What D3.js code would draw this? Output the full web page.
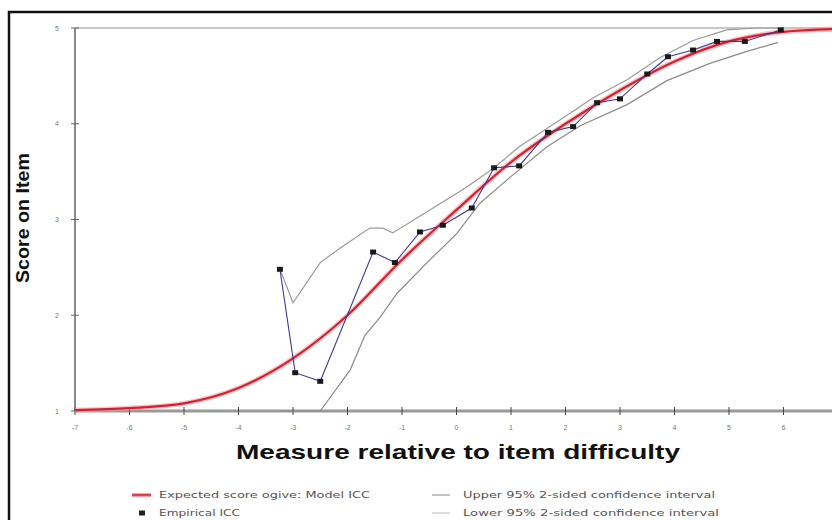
<!DOCTYPE html>
<html>
<head>
<meta charset="utf-8">
<script src="https://cdn.jsdelivr.net/npm/d3@7"></script>
<style>
  body { margin: 0; background: #fff; }
  svg { display: block; }
</style>
</head>
<body>
<div id="chart"></div>
<script>
// DATOS
let xTicks = [-7, -6, -5, -4, -3, -2, -1, 0, 1, 2, 3, 4, 5, 6];
let yTicks = [1, 2, 3, 4, 5];

// curva esperada (Model ICC)
let modelX = [-7, -6, -5, -4, -3, -2, -1, 0, 1, 2, 3, 4, 5, 6, 7];
let modelY = [1.01, 1.03, 1.08, 1.24, 1.55, 2.0, 2.58, 3.1, 3.6, 4.0, 4.35, 4.65, 4.86, 4.96, 4.99];

// ICC empirica
let empX = [-3.24, -2.96, -2.50, -1.53, -1.13, -0.67, -0.25, 0.28, 0.69, 1.15, 1.68, 2.14, 2.58, 3.00, 3.50, 3.88, 4.34, 4.78, 5.29, 5.95];
let empY = [2.48, 1.40, 1.31, 2.66, 2.55, 2.87, 2.94, 3.12, 3.54, 3.56, 3.91, 3.97, 4.22, 4.26, 4.52, 4.70, 4.77, 4.86, 4.86, 4.98];

// intervalo de confianza superior / inferior
let upperX = [-3.24, -3.0, -2.5, -2.14, -1.59, -1.35, -1.17, -0.8, -0.43, 0.19, 0.69, 1.15, 1.66, 2.27, 2.5, 3.13, 3.73, 4.34, 4.96, 5.5, 6.0];
let upperY = [2.48, 2.13, 2.55, 2.70, 2.91, 2.91, 2.86, 2.99, 3.12, 3.34, 3.54, 3.76, 3.95, 4.18, 4.27, 4.46, 4.69, 4.87, 4.98, 5.0, 5.0];
let lowerX = [-3.24, -2.5, -1.95, -1.68, -1.4, -1.09, -0.54, 0, 0.43, 0.98, 1.66, 2.27, 3.13, 3.86, 4.65, 5.3, 5.9];
let lowerY = [1.0, 1.0, 1.43, 1.79, 1.98, 2.23, 2.55, 2.85, 3.17, 3.44, 3.76, 3.98, 4.2, 4.45, 4.63, 4.75, 4.85];

let legendItems = [
  {label: "Expected score ogive: Model ICC", kind: "model"},
  {label: "Empirical ICC", kind: "emp"},
  {label: "Upper 95% 2-sided confidence interval", kind: "upper"},
  {label: "Lower 95% 2-sided confidence interval", kind: "lower"}
];

// SVG
let w = 832, h = 520;
let svg = d3.select("#chart").append("svg")
  .attr("width", w)
  .attr("height", h);

let x = d3.scaleLinear().domain([-7, 7]).range([75, 838]);
let y = d3.scaleLinear().domain([1, 5]).range([411, 28]);

// marco
svg.append("path")
  .attr("d", "M9," + h + "V12H" + w)
  .attr("fill", "none")
  .attr("stroke", "#111")
  .attr("stroke-width", 2.5);

// linea superior y ejes
svg.append("line")
  .attr("x1", x(-7)).attr("x2", w)
  .attr("y1", y(5)).attr("y2", y(5))
  .attr("stroke", "#c8c8c8").attr("stroke-width", 2);

svg.append("line")
  .attr("x1", x(-7)).attr("x2", x(-7))
  .attr("y1", y(5)).attr("y2", y(1))
  .attr("stroke", "#8a8a8a").attr("stroke-width", 2);

svg.append("line")
  .attr("x1", x(-7)).attr("x2", w)
  .attr("y1", y(1)).attr("y2", y(1))
  .attr("stroke", "#9a9a9a").attr("stroke-width", 3);

// ticks eje x
let gx = svg.append("g");
gx.selectAll(".tx")
  .data(xTicks)
  .enter().append("line")
  .attr("x1", d => x(d)).attr("x2", d => x(d))
  .attr("y1", y(1) - 4).attr("y2", y(1) + 4)
  .attr("stroke", "#444").attr("stroke-width", 1);
gx.selectAll(".lx")
  .data(xTicks)
  .enter().append("text")
  .attr("x", d => x(d)).attr("y", 430)
  .attr("text-anchor", "middle")
  .style("font-family", "Liberation Sans, sans-serif")
  .style("font-size", "7px")
  .style("fill", "#777")
  .text(d => d);

// ticks eje y
let gy = svg.append("g");
gy.selectAll(".ty")
  .data(yTicks)
  .enter().append("line")
  .attr("x1", x(-7) - 4).attr("x2", x(-7) + 4)
  .attr("y1", d => y(d)).attr("y2", d => y(d))
  .attr("stroke", "#666").attr("stroke-width", 1);
gy.selectAll(".ly")
  .data(yTicks)
  .enter().append("text")
  .attr("x", 57).attr("y", d => y(d) + 2.5)
  .attr("text-anchor", "middle")
  .style("font-family", "Liberation Sans, sans-serif")
  .style("font-size", "7px")
  .style("fill", "#777")
  .text(d => d);

// lineas
let line = d3.line().x(d => x(d[0])).y(d => y(d[1]));
let zip = (a, b) => a.map((v, i) => [v, b[i]]);

svg.append("path")
  .datum(zip(upperX, upperY))
  .attr("d", line)
  .attr("fill", "none")
  .attr("stroke", "#9a9a9a").attr("stroke-width", 1.2);

svg.append("path")
  .datum(zip(lowerX, lowerY))
  .attr("d", line)
  .attr("fill", "none")
  .attr("stroke", "#8a8a8a").attr("stroke-width", 1.2);

let lineCurve = d3.line().curve(d3.curveMonotoneX).x(d => x(d[0])).y(d => y(d[1]));

svg.append("path")
  .datum(zip(modelX, modelY))
  .attr("d", lineCurve)
  .attr("fill", "none")
  .attr("stroke", "#f4a0a8").attr("stroke-width", 5).attr("stroke-opacity", 0.6);
svg.append("path")
  .datum(zip(modelX, modelY))
  .attr("d", lineCurve)
  .attr("fill", "none")
  .attr("stroke", "#d8202c").attr("stroke-width", 2.2);

svg.append("path")
  .datum(zip(empX, empY))
  .attr("d", line)
  .attr("fill", "none")
  .attr("stroke", "#3a3a9a").attr("stroke-width", 1.1);

svg.selectAll(".pt")
  .data(zip(empX, empY))
  .enter().append("rect")
  .attr("x", d => x(d[0]) - 3).attr("y", d => y(d[1]) - 2.5)
  .attr("width", 6).attr("height", 5)
  .attr("fill", "#1a1a1a");

// titulos
svg.append("text")
  .attr("transform", "translate(29,218) rotate(-90)")
  .attr("text-anchor", "middle")
  .attr("textLength", 130).attr("lengthAdjust", "spacingAndGlyphs")
  .style("font-family", "Liberation Sans Narrow, Liberation Sans, sans-serif")
  .style("font-weight", "bold")
  .style("font-size", "19px")
  .style("fill", "#111")
  .text("Score on Item");

svg.append("text")
  .attr("x", 458).attr("y", 459)
  .attr("text-anchor", "middle")
  .attr("textLength", 444).attr("lengthAdjust", "spacingAndGlyphs")
  .style("font-family", "Liberation Sans, sans-serif")
  .style("font-weight", "900")
  .style("font-size", "21px")
  .style("fill", "#111")
  .text("Measure relative to item difficulty");

// leyenda
let legPos = [
  {lx: 132, ly: 495, tl: 211},
  {lx: 132, ly: 513, tl: 81},
  {lx: 432, ly: 495, tl: 252},
  {lx: 432, ly: 513, tl: 256}
];
let leg = svg.selectAll(".leg")
  .data(legendItems)
  .enter().append("g")
  .attr("transform", (d, i) => "translate(" + legPos[i].lx + "," + legPos[i].ly + ")");

leg.each(function(d, i) {
  let g = d3.select(this);
  if (d.kind == "model") {
    g.append("line").attr("x1", 0).attr("x2", 19).attr("y1", 0).attr("y2", 0)
      .attr("stroke", "#e04050").attr("stroke-width", 3);
  } else if (d.kind == "emp") {
    g.append("rect").attr("x", 7).attr("y", -2.5).attr("width", 6).attr("height", 5).attr("fill", "#222");
  } else {
    g.append("line").attr("x1", 0).attr("x2", 18).attr("y1", 0).attr("y2", 0)
      .attr("stroke", d.kind == "upper" ? "#9a9a9a" : "#c4c4c4").attr("stroke-width", 1.2);
  }
  g.append("text")
    .attr("x", i < 2 ? 27 : 31).attr("y", 3)
    .attr("textLength", legPos[i].tl).attr("lengthAdjust", "spacingAndGlyphs")
    .style("font-family", "DejaVu Sans, sans-serif")
    .style("font-size", "8.5px")
    .style("fill", "#555")
    .text(d.label);
});
</script>
</body>
</html>
